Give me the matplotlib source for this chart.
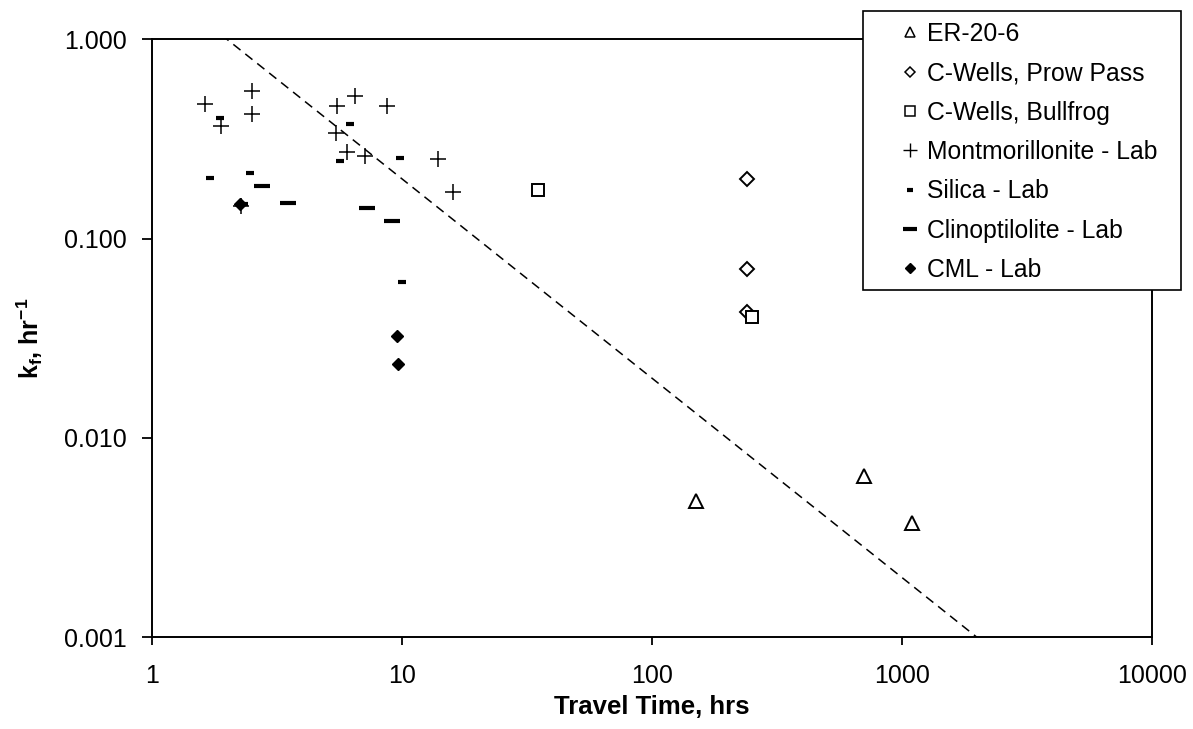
import matplotlib
matplotlib.use("Agg")
import matplotlib.pyplot as plt
from matplotlib.ticker import FixedLocator, FixedFormatter, NullLocator
from matplotlib.patches import Rectangle
from matplotlib.lines import Line2D

plt.rcParams['font.family'] = ['Liberation Sans', 'DejaVu Sans']
plt.rcParams['mathtext.fontset'] = 'custom'
plt.rcParams['mathtext.rm'] = 'Liberation Sans'
plt.rcParams['mathtext.bf'] = 'Liberation Sans:bold'
plt.rcParams['mathtext.it'] = 'Liberation Sans:italic'

# ---- data ----
er_x = [150, 707, 1100]
er_y = [0.00484, 0.00644, 0.00375]

prow_x = [240, 240, 240]
prow_y = [0.199, 0.0704, 0.043]

bull_x = [35.0, 251]
bull_y = [0.175, 0.0406]

mont_x = [1.63, 2.51, 2.51, 1.89, 5.5, 6.5, 8.71, 5.48, 6.06, 7.13, 14.0, 16.1, 2.28]
mont_y = [0.473, 0.552, 0.420, 0.368, 0.463, 0.521, 0.463, 0.340, 0.271, 0.261, 0.251, 0.171, 0.145]

sil_x = [1.88, 6.21, 5.67, 9.85, 1.71, 2.47, 10.0, 2.33]
sil_y = [0.404, 0.375, 0.245, 0.255, 0.202, 0.214, 0.0608, 0.150]

clin_x = [2.77, 3.52, 7.24, 9.12]
clin_y = [0.184, 0.151, 0.143, 0.1225]

cml_x = [2.26, 9.55, 9.69]
cml_y = [0.150, 0.0325, 0.0234]

trend_x = [1.9, 2000]
trend_y = [2.0 / 1.9, 2.0 / 2000]

x_ticks = [1, 10, 100, 1000, 10000]
x_ticklabels = ['1', '10', '100', '1000', '10000']
y_ticks = [0.001, 0.01, 0.1, 1.0]
y_ticklabels = ['0.001', '0.010', '0.100', '1.000']

labels = ['ER-20-6', 'C-Wells, Prow Pass', 'C-Wells, Bullfrog',
          'Montmorillonite - Lab', 'Silica - Lab', 'Clinoptilolite - Lab', 'CML - Lab']

W, H = 1193, 729
fig = plt.figure(figsize=(W / 100, H / 100), dpi=100)
ax = fig.add_axes([151.7 / W, 1 - 637.3 / H, (1151.7 - 151.7) / W, (637.3 - 39.3) / H])
ax.set_xscale('log')
ax.set_yscale('log')
ax.set_xlim(1, 10000)
ax.set_ylim(0.001, 1.0)

ax.plot(trend_x, trend_y, color='black', lw=1.1, ls=(0, (6, 4)), zorder=1)

ax.plot(er_x, er_y, ls='none', marker='^', ms=10, mfc='white', mec='black', mew=1.4, zorder=3)
ax.plot(prow_x, prow_y, ls='none', marker='D', ms=7.5, mfc='white', mec='black', mew=1.4, zorder=3)
ax.plot(bull_x, bull_y, ls='none', marker='s', ms=9, mfc='white', mec='black', mew=1.4, zorder=3)
ax.plot(mont_x, mont_y, ls='none', marker='+', ms=11, mec='black', mew=1.1, zorder=3)
ax.plot(sil_x, sil_y, ls='none', marker='_', ms=6, mec='black', mew=3, zorder=3)
ax.plot(clin_x, clin_y, ls='none', marker='_', ms=11, mec='black', mew=3, zorder=3)
ax.plot(cml_x, cml_y, ls='none', marker='D', ms=6, mfc='black', mec='black', mew=1, zorder=4)

ax.xaxis.set_major_locator(FixedLocator(x_ticks))
ax.xaxis.set_major_formatter(FixedFormatter(x_ticklabels))
ax.xaxis.set_minor_locator(NullLocator())
ax.yaxis.set_major_locator(FixedLocator(y_ticks))
ax.yaxis.set_major_formatter(FixedFormatter(y_ticklabels))
ax.yaxis.set_minor_locator(NullLocator())
ax.tick_params(axis='x', which='major', direction='out', length=6, width=1.3,
               labelsize=18, pad=13, colors='black')
ax.tick_params(axis='y', which='major', direction='out', length=7.2, width=1.3,
               labelsize=18, pad=10.8, colors='black')
for sp in ax.spines.values():
    sp.set_linewidth(1.4)
    sp.set_color('black')

ax.set_xlabel('Travel Time, hrs', fontsize=18.5, fontweight='bold', labelpad=5)
ax.set_ylabel(r'k$_\mathregular{f}$, hr$^{\mathbf{-1}}$', fontsize=18, fontweight='bold', labelpad=14)

# legend frame
fig.patches.append(Rectangle((863 / W, 1 - 290 / H), (1181 - 863) / W, (290 - 10.7) / H,
                             transform=fig.transFigure, facecolor='white', edgecolor='black',
                             lw=1.2, zorder=5))
handles = [
    Line2D([], [], ls='none', marker='^', ms=7.5, mfc='white', mec='black', mew=1.1),
    Line2D([], [], ls='none', marker='D', ms=5.5, mfc='white', mec='black', mew=1.1),
    Line2D([], [], ls='none', marker='s', ms=7.5, mfc='white', mec='black', mew=1.1),
    Line2D([], [], ls='none', marker='+', ms=10, mec='black', mew=1.0),
    Line2D([], [], ls='none', marker='_', ms=5, mec='black', mew=3),
    Line2D([], [], ls='none', marker='_', ms=10, mec='black', mew=3),
    Line2D([], [], ls='none', marker='D', ms=5, mfc='black', mec='black'),
]
leg = fig.legend(handles, labels, loc='upper left', bbox_to_anchor=(901 / W, 1 - 22 / H),
                 frameon=False, fontsize=17.8, handlelength=0.7, handletextpad=0.35,
                 labelspacing=0.62, borderpad=0, borderaxespad=0)
leg.set_zorder(6)

fig.savefig('out.png', dpi=100)
